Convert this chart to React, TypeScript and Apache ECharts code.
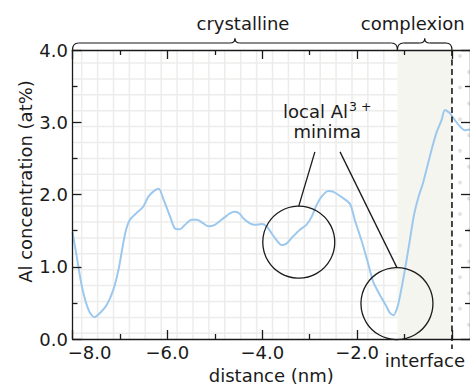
import { useEffect, useRef } from 'react';
import * as echarts from 'echarts';

// Al concentration profile across the grain boundary (distance in nm, concentration in at%)
const distance = [
  -8.0, -7.91, -7.8, -7.66, -7.54, -7.42, -7.28, -7.14, -7.03, -6.89, -6.79, -6.64, -6.51, -6.4,
  -6.26, -6.18, -6.08, -5.94, -5.84, -5.73, -5.63, -5.49, -5.38, -5.24, -5.14, -5.0, -4.86, -4.68,
  -4.57, -4.47, -4.4, -4.26, -4.15, -4.01, -3.91, -3.8, -3.7, -3.59, -3.49, -3.35, -3.21, -3.07,
  -2.96, -2.85, -2.75, -2.61, -2.51, -2.36, -2.15, -2.05, -1.91, -1.77, -1.66, -1.52, -1.38, -1.31,
  -1.23, -1.16, -1.1, -1.0, -0.9, -0.8, -0.7, -0.61, -0.43, -0.33, -0.22, -0.15, -0.05, 0.06, 0.17,
  0.27, 0.38,
];
const alConcentration = [
  1.48, 1.14, 0.72, 0.4, 0.3, 0.36, 0.47, 0.68, 0.96, 1.46, 1.65, 1.75, 1.83, 1.97,
  2.06, 2.08, 1.93, 1.69, 1.53, 1.52, 1.58, 1.65, 1.65, 1.6, 1.56, 1.58, 1.65, 1.74,
  1.76, 1.73, 1.67, 1.6, 1.58, 1.59, 1.56, 1.46, 1.37, 1.3, 1.32, 1.42, 1.51, 1.58,
  1.69, 1.86, 1.97, 2.05, 2.04, 1.98, 1.87, 1.65, 1.37, 1.05, 0.79, 0.61, 0.45, 0.36,
  0.33, 0.42, 0.58, 0.93, 1.32, 1.72, 1.98, 2.16, 2.62, 2.85, 3.03, 3.17, 3.13, 3.03, 2.94,
  2.89, 2.9,
];

const xRange = [-8, 0.38];
const yRange = [0, 4];
const xMajorTicks = [-8, -6, -4, -2, 0];
const xMinorTicks = [-7, -5, -3, -1];
const xLabelTicks = [-8, -6, -4, -2];

// regions along the profile
const complexionStart = -1.15;
const interfacePos = 0;

// local minima highlighted by circles, and where the callout leaders start
const minimaCenters = [
  [-3.23, 1.34],
  [-1.16, 0.49],
];
const leaderStarts = [
  [-2.89, 2.59],
  [-2.36, 2.59],
];
const calloutLines = [
  [-2.63, 3.15],
  [-2.63, 2.87],
];

const FONT = 'DejaVu Sans';
const INK = '#1a1a1a';
const LINE_BLUE = '#9dc8ee';

const fmt = (v: number) => v.toFixed(1).replace('-', '\u2212');
const axisLineStyle = { color: INK, width: 1.3 };

function xAxisDef(position: 'top' | 'bottom', minor: boolean, labels: boolean) {
  return {
    type: 'value',
    min: xRange[0],
    max: xRange[1],
    position,
    z: 10,
    splitLine: { show: false },
    axisLine: { show: !minor, onZero: false, lineStyle: axisLineStyle },
    axisTick: {
      show: true,
      inside: true,
      length: minor ? 5 : 9,
      customValues: minor ? xMinorTicks : xMajorTicks,
      lineStyle: axisLineStyle,
    },
    axisLabel: labels
      ? {
          show: true,
          customValues: xLabelTicks,
          margin: 4.5,
          fontSize: 18,
          fontFamily: FONT,
          color: INK,
          formatter: (v: number) => (v === xRange[0] ? `{first|${fmt(v)}}` : fmt(v)),
          rich: {
            first: { padding: [0, 0, 0, 34], fontSize: 18, fontFamily: FONT, color: INK },
          },
        }
      : { show: false },
  };
}

function yAxisDef(position: 'left' | 'right', labels: boolean) {
  return {
    type: 'value',
    min: yRange[0],
    max: yRange[1],
    interval: 1,
    position,
    z: 10,
    splitLine: { show: false },
    axisLine: { show: true, onZero: false, lineStyle: axisLineStyle },
    axisTick: { show: true, inside: true, length: 9, lineStyle: axisLineStyle },
    minorTick: { show: true, splitNumber: 2, length: 5, lineStyle: axisLineStyle },
    axisLabel: labels
      ? { show: true, margin: 4.5, fontSize: 18, fontFamily: FONT, color: INK, formatter: fmt }
      : { show: false },
  };
}

const option = {
  animation: false,
  textStyle: { fontFamily: FONT },
  grid: { left: 72.5, top: 50, width: 398, height: 289, containLabel: false },
  xAxis: [
    xAxisDef('bottom', false, true),
    xAxisDef('top', false, false),
    xAxisDef('bottom', true, false),
    xAxisDef('top', true, false),
  ],
  yAxis: [yAxisDef('left', true), yAxisDef('right', false)],
  series: [
    {
      type: 'line',
      xAxisIndex: 0,
      yAxisIndex: 0,
      data: distance.map((d, i) => [d, alConcentration[i]]),
      showSymbol: false,
      smooth: 0.25,
      z: 3,
      lineStyle: { color: LINE_BLUE, width: 2 },
      markArea: {
        silent: true,
        itemStyle: { color: '#f5f5f0' },
        data: [[{ xAxis: complexionStart }, { xAxis: interfacePos }]],
      },
    },
  ],
};

function brace(x1: number, x2: number, yBase: number, yLine: number, yTip: number) {
  const xm = (x1 + x2) / 2;
  const style = { stroke: INK, lineWidth: 1.2, fill: 'none' };
  const common = { z: 20, silent: true, style };
  return [
    { type: 'bezierCurve', ...common, shape: { x1, y1: yBase, cpx1: x1, cpy1: yLine, x2: x1 + 6, y2: yLine } },
    { type: 'line', ...common, shape: { x1: x1 + 6, y1: yLine, x2: xm - 5, y2: yLine } },
    { type: 'bezierCurve', ...common, shape: { x1: xm - 5, y1: yLine, cpx1: xm, cpy1: yLine, x2: xm, y2: yTip } },
    { type: 'bezierCurve', ...common, shape: { x1: xm, y1: yTip, cpx1: xm, cpy1: yLine, x2: xm + 5, y2: yLine } },
    { type: 'line', ...common, shape: { x1: xm + 5, y1: yLine, x2: x2 - 6, y2: yLine } },
    { type: 'bezierCurve', ...common, shape: { x1: x2 - 6, y1: yLine, cpx1: x2, cpy1: yLine, x2, y2: yBase } },
  ];
}

function buildGraphic(chart: echarts.ECharts) {
  const toPx = (p: number[]) =>
    chart.convertToPixel({ xAxisIndex: 0, yAxisIndex: 0 }, p) as number[];
  const [left, top] = toPx([xRange[0], yRange[1]]);
  const [, bottom] = toPx([xRange[0], yRange[0]]);
  const cx = toPx([complexionStart, 0])[0];
  const ix = toPx([interfacePos, 0])[0];
  const els: any[] = [];

  // crystal lattice backdrop in the crystalline region
  const step = 15.9;
  const latticeStyle = { stroke: '#ececea', lineWidth: 1.5 };
  for (let x = left + 9.2; x < cx - 2; x += step) {
    els.push({ type: 'line', z: 1, silent: true, shape: { x1: x, y1: top, x2: x, y2: bottom }, style: latticeStyle });
  }
  for (let y = top + 13; y < bottom - 1; y += step) {
    els.push({ type: 'line', z: 1, silent: true, shape: { x1: left, y1: y, x2: cx, y2: y }, style: latticeStyle });
  }

  // disordered dots beyond the interface
  const dotStep = 31.6;
  for (let y = top + 6; y <= bottom + 1; y += dotStep) {
    els.push({ type: 'circle', z: 1, silent: true, shape: { cx: ix + 8, cy: y, r: 2 }, style: { fill: '#e3e3e1' } });
  }
  for (let y = top + 22; y <= bottom + 1; y += dotStep) {
    els.push({ type: 'circle', z: 1, silent: true, shape: { cx: ix + 17, cy: y, r: 2 }, style: { fill: '#e3e3e1' } });
  }

  // interface marker
  els.push({
    type: 'line',
    z: 20,
    silent: true,
    shape: { x1: ix, y1: top, x2: ix, y2: bottom + 10 },
    style: { stroke: INK, lineWidth: 1.6, lineDash: [6, 3.5] },
  });

  // braces and region names
  els.push(...brace(left, cx, top, top - 7, top - 11.5));
  els.push(...brace(cx, ix, top, top - 7, top - 11.5));
  const textStyle = { fontSize: 18, fontFamily: FONT, fill: INK, align: 'center', verticalAlign: 'middle' };
  els.push({ type: 'text', z: 20, silent: true, x: (left + cx) / 2 + 8, y: 23, style: { ...textStyle, text: 'crystalline' } });
  els.push({ type: 'text', z: 20, silent: true, x: (cx + ix) / 2 - 12, y: 23, style: { ...textStyle, text: 'complexion' } });

  // label for the interface position on the distance axis
  els.push({
    type: 'text',
    z: 20,
    silent: true,
    x: ix + 13,
    y: bottom + 21.5,
    style: { ...textStyle, align: 'right', text: 'interface' },
  });

  // axis titles
  els.push({
    type: 'text',
    z: 20,
    silent: true,
    x: (left + toPx([xRange[1], 0])[0]) / 2,
    y: bottom + 36.8,
    style: { ...textStyle, text: 'distance (nm)' },
  });
  els.push({
    type: 'text',
    z: 20,
    silent: true,
    x: 25,
    y: (top + bottom) / 2 - 13,
    rotation: Math.PI / 2,
    style: { ...textStyle, text: 'Al concentration (at%)' },
  });

  // circled minima with callout leaders
  const r = 36;
  minimaCenters.forEach((c, i) => {
    const [px, py] = toPx(c);
    els.push({
      type: 'circle',
      z: 20,
      silent: true,
      shape: { cx: px, cy: py, r },
      style: { fill: 'none', stroke: INK, lineWidth: 1.3 },
    });
    const [sx, sy] = toPx(leaderStarts[i]);
    els.push({
      type: 'line',
      z: 20,
      silent: true,
      shape: { x1: sx, y1: sy, x2: px, y2: py - r },
      style: { stroke: INK, lineWidth: 1.3 },
    });
  });
  const [t1x, t1y] = toPx(calloutLines[0]);
  const [t2x, t2y] = toPx(calloutLines[1]);
  els.push({
    type: 'text',
    z: 20,
    silent: true,
    x: t1x,
    y: t1y,
    style: {
      text: '{a|local Al}{s|3 +}',
      align: 'center',
      verticalAlign: 'middle',
      fill: INK,
      rich: {
        a: { fontSize: 18, fontFamily: FONT, fill: INK, lineHeight: 22, verticalAlign: 'middle' },
        s: { fontSize: 12.5, fontFamily: FONT, fill: INK, lineHeight: 12.5, verticalAlign: 'top', padding: [0, 0, 0, 1] },
      },
    },
  });
  els.push({ type: 'text', z: 20, silent: true, x: t2x, y: t2y, style: { ...textStyle, text: 'minima' } });

  return els;
}

export default function App() {
  const ref = useRef<HTMLDivElement>(null);
  useEffect(() => {
    const chart = echarts.init(ref.current!, null, { renderer: 'svg' });
    chart.setOption(option as any);
    chart.setOption({ graphic: buildGraphic(chart) });
    return () => chart.dispose();
  }, []);
  return (
    <div
      ref={ref}
      style={{ position: 'fixed', left: 0, top: 0, width: 470, height: 385, background: '#fff' }}
    />
  );
}
